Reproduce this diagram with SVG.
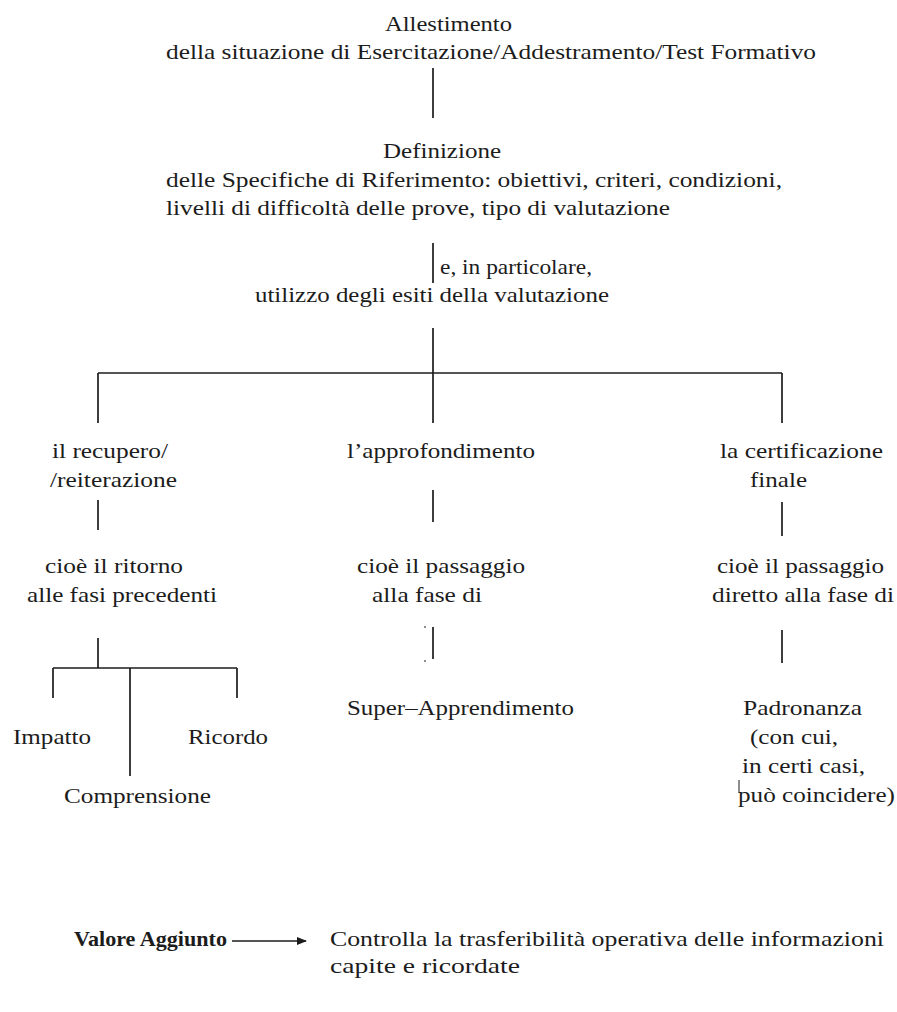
<svg xmlns="http://www.w3.org/2000/svg" width="897" height="1012" viewBox="0 0 897 1012">
  <style>
    text { font-family: "Liberation Serif", "Times New Roman", serif; font-size: 21px; fill: #1c1c1c; }
    .b { font-weight: bold; }
    .ln { stroke: #1c1c1c; stroke-width: 1.7; fill: none; }
    .fine { stroke: #1c1c1c; stroke-width: 1; fill: none; }
  </style>
  <defs>
    <marker id="arrow" markerWidth="10" markerHeight="8" refX="9" refY="4" orient="auto" markerUnits="userSpaceOnUse">
      <path d="M0,0 L10,4 L0,8 Z" fill="#1c1c1c"/>
    </marker>
  </defs>
  <rect width="897" height="1012" fill="#ffffff"/>

  <!-- connectors -->
  <g id="connectors">
    <line class="ln" x1="433" y1="68" x2="433" y2="118"/>
    <line class="ln" x1="433" y1="243" x2="433" y2="283"/>
    <line class="ln" x1="433" y1="328" x2="433" y2="423"/>
    <line class="ln" x1="98" y1="373" x2="782" y2="373"/>
    <line class="ln" x1="98" y1="373" x2="98" y2="423"/>
    <line class="ln" x1="782" y1="373" x2="782" y2="423"/>
    <line class="ln" x1="98" y1="500" x2="98" y2="530"/>
    <line class="ln" x1="433" y1="490" x2="433" y2="522"/>
    <line class="ln" x1="782" y1="502" x2="782" y2="536"/>
    <line class="ln" x1="98" y1="638" x2="98" y2="668"/>
    <line class="ln" x1="53" y1="668" x2="237" y2="668"/>
    <line class="ln" x1="53" y1="668" x2="53" y2="698"/>
    <line class="ln" x1="130" y1="668" x2="130" y2="776"/>
    <line class="ln" x1="237" y1="668" x2="237" y2="698"/>
    <line class="ln" x1="433" y1="627" x2="433" y2="659"/>
    <line class="fine" x1="425" y1="626" x2="425" y2="628"/>
    <line class="fine" x1="425" y1="660" x2="425" y2="662"/>
    <line class="ln" x1="782" y1="630" x2="782" y2="663"/>
    <line class="fine" x1="739" y1="780" x2="739" y2="793"/>
    <line class="ln" x1="232" y1="941" x2="306" y2="941" marker-end="url(#arrow)"/>
  </g>

  <g id="node-allestimento">
    <text x="385" y="31" textLength="127" lengthAdjust="spacingAndGlyphs">Allestimento</text>
    <text x="166" y="59" textLength="650" lengthAdjust="spacingAndGlyphs">della situazione di Esercitazione/Addestramento/Test Formativo</text>
  </g>

  <g id="node-definizione">
    <text x="383" y="158" textLength="118" lengthAdjust="spacingAndGlyphs">Definizione</text>
    <text x="166" y="187" textLength="616" lengthAdjust="spacingAndGlyphs">delle Specifiche di Riferimento: obiettivi, criteri, condizioni,</text>
    <text x="166" y="215" textLength="504" lengthAdjust="spacingAndGlyphs">livelli di difficoltà delle prove, tipo di valutazione</text>
  </g>

  <g id="node-utilizzo">
    <text x="440" y="274" textLength="152" lengthAdjust="spacingAndGlyphs">e, in particolare,</text>
    <text x="255" y="302" textLength="354" lengthAdjust="spacingAndGlyphs">utilizzo degli esiti della valutazione</text>
  </g>

  <g id="node-recupero">
    <text x="52" y="458" textLength="116" lengthAdjust="spacingAndGlyphs">il recupero/</text>
    <text x="50" y="487" textLength="127" lengthAdjust="spacingAndGlyphs">/reiterazione</text>
  </g>

  <g id="node-approfondimento">
    <text x="347" y="458" textLength="188" lengthAdjust="spacingAndGlyphs">l’approfondimento</text>
  </g>

  <g id="node-certificazione">
    <text x="720" y="458" textLength="163" lengthAdjust="spacingAndGlyphs">la certificazione</text>
    <text x="750" y="487" textLength="57" lengthAdjust="spacingAndGlyphs">finale</text>
  </g>

  <g id="node-ritorno">
    <text x="45" y="573" textLength="138" lengthAdjust="spacingAndGlyphs">cioè il ritorno</text>
    <text x="27" y="602" textLength="190" lengthAdjust="spacingAndGlyphs">alle fasi precedenti</text>
  </g>

  <g id="node-passaggio">
    <text x="357" y="573" textLength="168" lengthAdjust="spacingAndGlyphs">cioè il passaggio</text>
    <text x="372" y="602" textLength="110" lengthAdjust="spacingAndGlyphs">alla fase di</text>
  </g>

  <g id="node-passaggio-diretto">
    <text x="717" y="573" textLength="167" lengthAdjust="spacingAndGlyphs">cioè il passaggio</text>
    <text x="712" y="602" textLength="182" lengthAdjust="spacingAndGlyphs">diretto alla fase di</text>
  </g>

  <g id="node-impatto">
    <text x="13" y="744" textLength="78" lengthAdjust="spacingAndGlyphs">Impatto</text>
  </g>
  <g id="node-ricordo">
    <text x="188" y="744" textLength="80" lengthAdjust="spacingAndGlyphs">Ricordo</text>
  </g>
  <g id="node-comprensione">
    <text x="64" y="803" textLength="147" lengthAdjust="spacingAndGlyphs">Comprensione</text>
  </g>

  <g id="node-super-apprendimento">
    <text x="347" y="715" textLength="227" lengthAdjust="spacingAndGlyphs">Super–Apprendimento</text>
  </g>

  <g id="node-padronanza">
    <text x="743" y="715" textLength="119" lengthAdjust="spacingAndGlyphs">Padronanza</text>
    <text x="750" y="744" textLength="88" lengthAdjust="spacingAndGlyphs">(con cui,</text>
    <text x="742" y="773" textLength="123" lengthAdjust="spacingAndGlyphs">in certi casi,</text>
    <text x="738" y="802" textLength="157" lengthAdjust="spacingAndGlyphs">può coincidere)</text>
  </g>

  <g id="node-valore-aggiunto">
    <text class="b" x="74" y="946" textLength="153" lengthAdjust="spacingAndGlyphs">Valore Aggiunto</text>
  </g>
  <g id="node-controlla">
    <text x="330" y="946" textLength="554" lengthAdjust="spacingAndGlyphs">Controlla la trasferibilità operativa delle informazioni</text>
    <text x="330" y="973" textLength="190" lengthAdjust="spacingAndGlyphs">capite e ricordate</text>
  </g>
</svg>
